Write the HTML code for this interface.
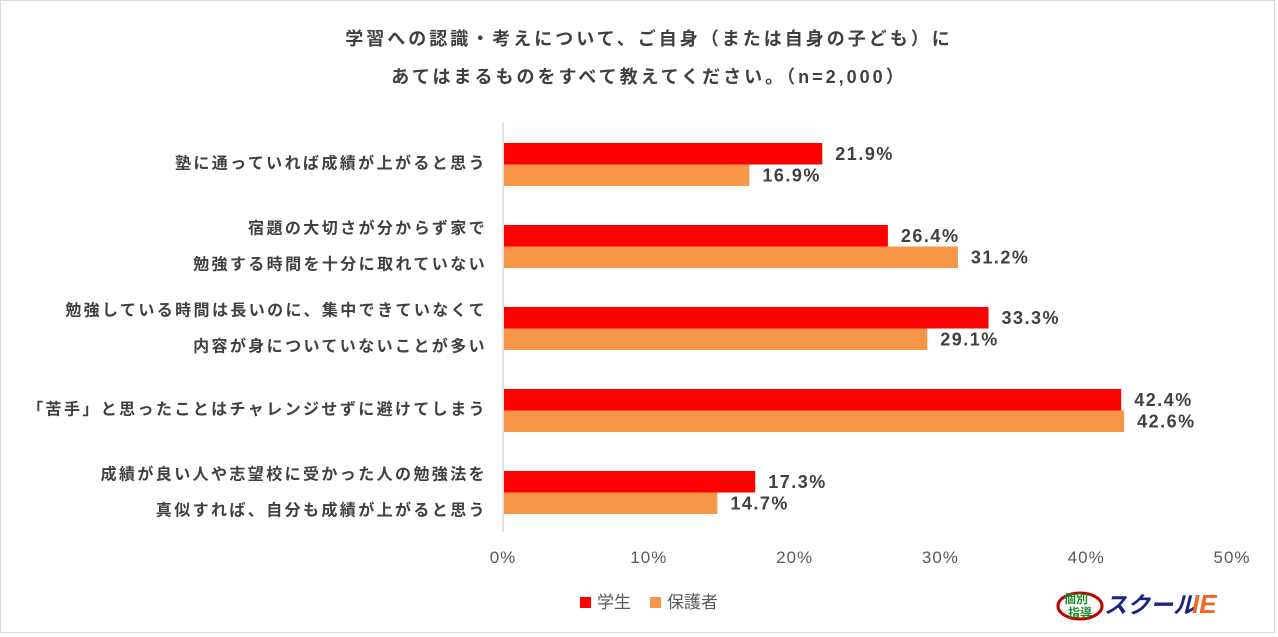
<!DOCTYPE html>
<html><head><meta charset="utf-8"><style>
body{margin:0;background:#fff;}
#wrap{position:relative;width:1278px;height:637px;overflow:hidden;font-family:"Liberation Sans","Noto Sans CJK JP",sans-serif;}
#frame{position:absolute;left:0;top:0;width:1275px;height:633px;border:1px solid #d9d9d9;box-sizing:border-box;}
.t{position:absolute;left:0;width:1278px;text-align:center;font-weight:bold;font-size:18px;letter-spacing:3px;color:#404040;}
</style></head><body>
<div id="wrap">
<div id="frame"></div>
<div class="t" style="top:25px;padding-left:10px">学習への認識・考えについて、ご自身（または自身の子ども）に</div>
<div class="t" style="top:63px;padding-left:10px">あてはまるものをすべて教えてください。（n=2,000）</div>
<svg id="svg" width="1278" height="637" style="position:absolute;left:0;top:0"></svg>
</div>
<script>
const categories=[["塾に通っていれば成績が上がると思う"],["宿題の大切さが分からず家で","勉強する時間を十分に取れていない"],["勉強している時間は長いのに、集中できていなくて","内容が身についていないことが多い"],["「苦手」と思ったことはチャレンジせずに避けてしまう"],["成績が良い人や志望校に受かった人の勉強法を","真似すれば、自分も成績が上がると思う"]];
const students=[21.9,26.4,33.3,42.4,17.3];
const parents=[16.9,31.2,29.1,42.6,14.7];
const ticks=[0,10,20,30,40,50];
const seriesNames=["学生","保護者"];
const colors=["#ff0000","#f79646"];
const NS="http://www.w3.org/2000/svg";
const svg=document.getElementById('svg');
const x0=503,x1=1232,xmax=50;
const X=v=>x0+(x1-x0)*v/xmax;
const top0=143,pitch=82,bh=21.5;
function mk(t,a,txt){const e=document.createElementNS(NS,t);for(const k in a)e.setAttribute(k,a[k]);if(txt!==undefined)e.textContent=txt;svg.appendChild(e);return e;}
const ax=mk('line',{x1:x0,x2:x0,y1:122,y2:532,stroke:'#d9d9d9','stroke-width':1.5});


ticks.forEach(t=>{
 const e=mk('text',{x:X(t),y:563,'text-anchor':'middle','font-size':17,fill:'#595959','letter-spacing':1},t+'%');
 
 
});
categories.forEach((lines,i)=>{
 const y=top0+i*pitch;
 const vals=[students[i],parents[i]];
 vals.forEach((v,s)=>{
  const by=y+s*bh;
  const r=mk('rect',{x:x0+1,y:by,width:X(v)-x0-1,height:bh,fill:colors[s]});
  
  
  const l=mk('text',{x:X(v)+13,y:by+17,'font-size':18,'font-weight':'bold',fill:'#404040','letter-spacing':1.5},v.toFixed(1)+'%');
  
  
 });
 const cy=y+bh;
 lines.forEach((ln,k)=>{
  const yy=lines.length===1?cy+4:(k===0?cy-13:cy+23);
  const e=mk('text',{x:487,y:yy,'text-anchor':'end','font-size':16,'font-weight':'bold',fill:'#404040','letter-spacing':2.4},ln);
  
  
 });
});
seriesNames.forEach((n,s)=>{
 const lx=[580,650][s];
 const r=mk('rect',{x:lx,y:597,width:11,height:11,fill:colors[s]});
 
 
 const t=mk('text',{x:lx+17,y:608,'font-size':17,fill:'#595959'},n);
 
 
});
const g0=mk('ellipse',{cx:1080,cy:606,rx:22,ry:13,fill:'none',stroke:'#c00000','stroke-width':3});


const g1=mk('text',{x:1064,y:603,'font-size':12,'font-weight':'bold',fill:'#1a8a2a'},'個別');


const g2=mk('text',{x:1068,y:617,'font-size':12,'font-weight':'bold',fill:'#1a8a2a'},'指導');


const g3=mk('text',{x:1104,y:613,'font-size':23,'font-weight':'bold','font-style':'italic',fill:'#1a237e'},'スクール');


const g4=mk('text',{x:1192,y:613,'font-size':26,'font-weight':'bold','font-style':'italic',fill:'#f26522'},'IE');


</script>
</body></html>
